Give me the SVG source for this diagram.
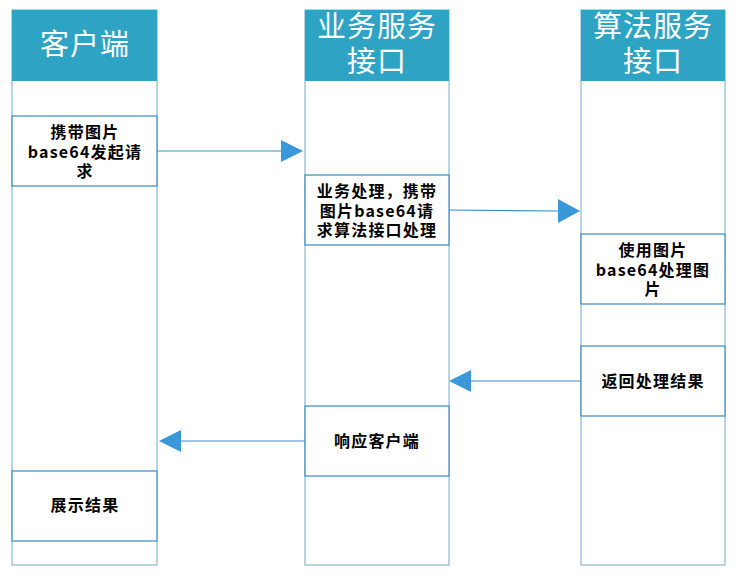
<svg xmlns="http://www.w3.org/2000/svg" width="738" height="576" viewBox="0 0 738 576">
<defs>
<style>
.lane{fill:#fff;stroke:#8db7cf;stroke-width:1.2}
.hdr{fill:#2ea3c4}
.ht{fill:#fff;font-family:"Noto Sans CJK SC","Noto Sans",sans-serif;font-size:29px;letter-spacing:1px;text-anchor:middle}
.box{fill:#fff;stroke:#3a8cbc;stroke-width:1.2}
.t{fill:#000;font-family:"Noto Sans CJK SC","Noto Sans",sans-serif;font-size:16px;font-weight:bold;letter-spacing:1.2px;text-anchor:middle}
.c{stroke:#3a8fc4;stroke-width:1.2;fill:none}
.ah{fill:#3a98d8}
</style>
</defs>
<rect width="738" height="576" fill="#fff"/>
<g id="lane-client">
<rect class="lane" x="12" y="10" width="145" height="555"/>
<rect class="hdr" x="12" y="10" width="145" height="71"/>
<text class="ht" x="85" y="55">客户端</text>
</g>
<g id="lane-biz">
<rect class="lane" x="305" y="10" width="144" height="555"/>
<rect class="hdr" x="305" y="10" width="144" height="71"/>
<text class="ht" x="377" y="37">业务服务</text>
<text class="ht" x="377" y="72">接口</text>
</g>
<g id="lane-algo">
<rect class="lane" x="581" y="10" width="144" height="555"/>
<rect class="hdr" x="581" y="10" width="144" height="71"/>
<text class="ht" x="653" y="37">算法服务</text>
<text class="ht" x="653" y="72">接口</text>
</g>
<g id="n1">
<rect class="box" x="12" y="116" width="145" height="70"/>
<text class="t" x="85" y="138">携带图片</text>
<text class="t" x="85" y="158">base64发起请</text>
<text class="t" x="85" y="177">求</text>
</g>
<g id="n2">
<rect class="box" x="305" y="175" width="144" height="70"/>
<text class="t" x="377" y="197">业务处理，携带</text>
<text class="t" x="377" y="217">图片base64请</text>
<text class="t" x="377" y="236">求算法接口处理</text>
</g>
<g id="n3">
<rect class="box" x="581" y="234" width="144" height="70"/>
<text class="t" x="653" y="256">使用图片</text>
<text class="t" x="653" y="276">base64处理图</text>
<text class="t" x="653" y="295">片</text>
</g>
<g id="n4">
<rect class="box" x="581" y="346" width="144" height="70"/>
<text class="t" x="653" y="387">返回处理结果</text>
</g>
<g id="n5">
<rect class="box" x="305" y="406" width="144" height="70"/>
<text class="t" x="377" y="447">响应客户端</text>
</g>
<g id="n6">
<rect class="box" x="12" y="471" width="145" height="70"/>
<text class="t" x="85" y="511">展示结果</text>
</g>
<g id="connectors">
<line class="c" x1="157" y1="151" x2="282" y2="151"/>
<polygon class="ah" points="281,140 303,151 281,162"/>
<line class="c" x1="449" y1="210" x2="559" y2="211"/>
<polygon class="ah" points="558,199 580,211 558,223"/>
<line class="c" x1="581" y1="381" x2="470" y2="381"/>
<polygon class="ah" points="471,370 449,381 471,392"/>
<line class="c" x1="305" y1="441" x2="180" y2="441"/>
<polygon class="ah" points="181,430 159,441 181,452"/>
</g>
</svg>
